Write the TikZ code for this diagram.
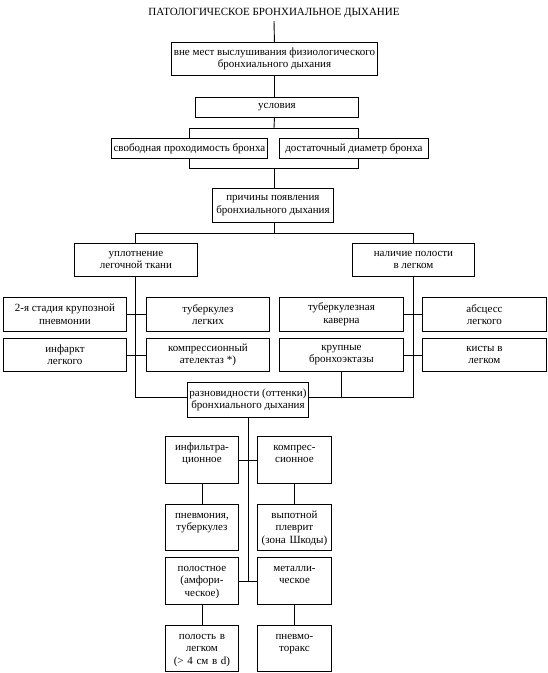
\documentclass[tikz,border=0pt]{standalone}
\usepackage{fontspec}
\setmainfont{Liberation Serif}
\usepackage{tikz}
\usetikzlibrary{positioning,calc}

\begin{document}
\begin{tikzpicture}[x=1pt, y=-1pt, line width=0.9pt,
    every node/.style={font=\fontsize{11}{12.5}\selectfont},
    box/.style 2 args={draw, align=center, anchor=north west, inner sep=1pt, minimum width=#1, minimum height=#2},
    sbox/.style 2 args={box={#1}{#2}, text width=#1-4pt, inner ysep=3pt, text height=11pt, text depth=#2-17pt}]
        \useasboundingbox (0,0) rectangle (547,673);
        \node[anchor=base] (title) at (274,15) {ПАТОЛОГИЧЕСКОЕ БРОНХИАЛЬНОЕ ДЫХАНИЕ};
        \node[box={206pt}{33pt}] (vne) at (171,42) {вне мест выслушивания физиологического\\бронхиального дыхания};
        \node[box={163pt}{20pt}] (usl) at (195,97) {условия};
        \node[box={156pt}{20pt}] (svob) at (111,138) {свободная проходимость бронха};
        \node[box={149pt}{20pt}] (diam) at (279,138) {достаточный диаметр бронха};
        \node[box={121pt}{34pt}] (prich) at (212,188) {причины появления\\бронхиального дыхания};
        \node[box={123pt}{33pt}] (upl) at (74,243) {уплотнение\\легочной ткани};
        \node[box={122pt}{33pt}] (nal) at (352,243) {наличие полости\\в легком};
        \node[box={123pt}{34pt}] (stad) at (3,297) {2-я стадия крупозной\\пневмонии};
        \node[box={123pt}{34pt}] (tubl) at (146,297) {туберкулез\\легких};
        \node[box={124pt}{34pt}] (kav) at (279,297) {туберкулезная\\каверна};
        \node[box={124pt}{34pt}] (absc) at (422,297) {абсцесс\\легкого};
        \node[box={123pt}{33pt}] (infk) at (3,338) {инфаркт\\легкого};
        \node[box={123pt}{33pt}] (atel) at (146,338) {компрессионный\\ателектаз *)};
        \node[box={124pt}{33pt}] (bron) at (279,338) {крупные\\бронхоэктазы};
        \node[box={124pt}{33pt}] (kist) at (422,338) {кисты в\\легком};
        \node[box={121pt}{35pt}] (razn) at (187,382) {разновидности (оттенки)\\бронхиального дыхания};
        \node[sbox={73pt}{47pt}] (infl) at (165,436) {инфильтра-\\ционное};
        \node[sbox={74pt}{47pt}] (komp) at (257,436) {компрес-\\сионное};
        \node[sbox={73pt}{46pt}] (pnev) at (165,504) {пневмония,\\туберкулез};
        \node[sbox={74pt}{46pt}] (vyp) at (257,504) {выпотной\\плеврит\\(зона Шкоды)};
        \node[sbox={73pt}{47pt}] (pol) at (165,557) {полостное\\(амфори-\\ческое)};
        \node[sbox={74pt}{47pt}] (met) at (257,557) {металли-\\ческое};
        \node[sbox={73pt}{46pt}] (polv) at (165,625) {полость в\\легком\\(> 4 см в d)};
        \node[sbox={74pt}{46pt}] (pnt) at (257,625) {пневмо-\\торакс};
        % branch points
        \coordinate (ax1) at (274,128);
        \coordinate (ax2) at (274,168);
        \coordinate (ax3) at (274,233);
        \coordinate (ul) at (189,128);
        \coordinate (ur) at (358,128);
        \coordinate (ll) at (189,168);
        \coordinate (lr) at (358,168);
        \coordinate (pl) at (135,233);
        \coordinate (pr) at (413,233);
        \coordinate (rl) at (135,397);
        \coordinate (rr) at (413,397);
        \draw (title.south) -- (vne.north);
        \draw (vne.south) -- (vne.south |- usl.north);
        \draw (vne.south |- usl.south) -- (ax1);
        \draw (svob.north -| ul) -- (ul) -- (ur) -- (diam.north -| ur);
        \draw (svob.south -| ll) -- (ll) -- (lr) -- (diam.south -| lr);
        \draw (ax2) -- (ax2 |- prich.north);
        \draw (ax2 |- prich.south) -- (ax3);
        \draw (upl.north -| pl) -- (pl) -- (pr) -- (nal.north -| pr);
        \draw (upl.south -| rl) -- (rl) -- (razn.west |- rl);
        \draw (nal.south -| rr) -- (rr) -- (razn.east |- rr);
        \draw (bron.south) -- (bron.south |- rr);
        \draw (stad) -- (tubl);
        \draw (infk) -- (atel);
        \draw (kav) -- (absc);
        \draw (bron) -- (kist);
        \draw (razn.south) -- (razn.south |- pol.east);
        \draw (infl) -- (komp);
        \draw (pol) -- (met);
        \draw (infl) -- (pnev);
        \draw (komp) -- (vyp);
        \draw (pol) -- (polv);
        \draw (met) -- (pnt);
\end{tikzpicture}
\end{document}
